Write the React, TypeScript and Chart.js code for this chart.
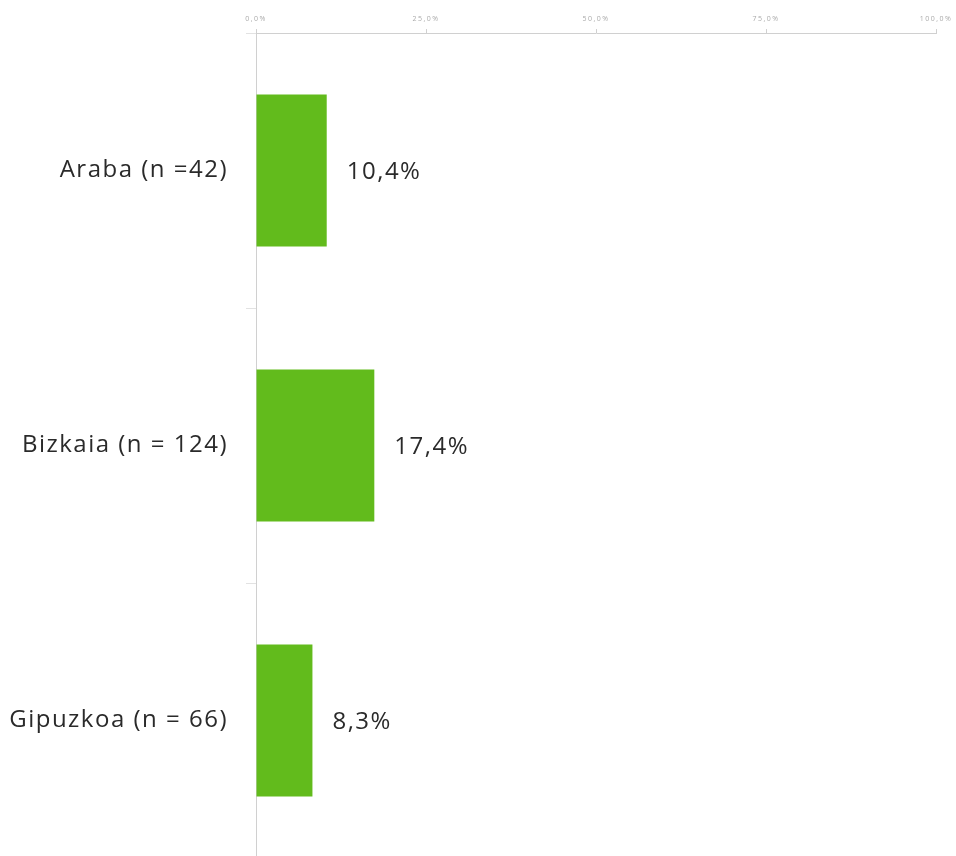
import React, { useEffect, useRef } from "react";
import { Chart, registerables } from "chart.js";

Chart.register(...registerables);

const categories = ["Araba (n =42)", "Bizkaia (n = 124)", "Gipuzkoa (n = 66)"];
const values = [10.4, 17.4, 8.3];
const valueLabels = ["10,4%", "17,4%", "8,3%"];
const xTickLabels: Record<number, string> = { 0: "0,0%", 25: "25,0%", 50: "50,0%", 75: "75,0%", 100: "100,0%" };

const FONT = "'Open Sans', sans-serif";

const spacingPlugin = {
  id: "spacing",
  beforeDraw(chart: any) {
    chart.ctx.letterSpacing = "1.5px";
  },
  afterDraw(chart: any) {
    chart.ctx.letterSpacing = "0px";
  },
};

const valueLabelPlugin = {
  id: "valueLabels",
  afterDatasetsDraw(chart: any) {
    const ctx = chart.ctx;
    const meta = chart.getDatasetMeta(0);
    ctx.save();
    ctx.letterSpacing = "1.5px";
    ctx.font = `24px ${FONT}`;
    ctx.fillStyle = "#2a2a2a";
    ctx.textAlign = "left";
    ctx.textBaseline = "middle";
    meta.data.forEach((el: any, i: number) => {
      ctx.fillText(valueLabels[i], el.x + 20, el.y + 2);
    });
    ctx.restore();
  },
};

export default function App() {
  const ref = useRef<HTMLCanvasElement>(null);
  useEffect(() => {
    if (!ref.current) return;
    const chart = new Chart(ref.current, {
      type: "bar",
      data: {
        labels: categories,
        datasets: [
          {
            data: values,
            backgroundColor: "#62BB1C",
            categoryPercentage: 1,
            barPercentage: 0.553,
          },
        ],
      },
      options: {
        indexAxis: "y",
        animation: false,
        responsive: false,
        maintainAspectRatio: false,
        layout: { padding: { left: 0, right: 20, top: 0, bottom: 0 } },
        plugins: { legend: { display: false }, tooltip: { enabled: false } },
        scales: {
          x: {
            position: "top",
            min: 0,
            max: 100,
            afterFit: (s: any) => {
              s.height = 33;
              s.paddingLeft = 0;
              s.paddingRight = 0;
            },
            afterBuildTicks: (s: any) => {
              s.ticks = [0, 25, 50, 75, 100].map((v) => ({ value: v }));
            },
            ticks: {
              font: { size: 7, family: FONT },
              color: "#aaaaaa",
              padding: 6,
              maxRotation: 0,
              callback: (v: any) => xTickLabels[v as number] ?? "",
            },
            grid: { drawOnChartArea: false, tickLength: 4, color: "#d0d0d0" },
            border: { color: "#d0d0d0" },
          },
          y: {
            afterFit: (s: any) => {
              s.width = 256;
              s.paddingTop = 0;
              s.paddingBottom = 0;
            },
            ticks: {
              font: { size: 24, family: FONT },
              color: "#2a2a2a",
              padding: 18,
            },
            grid: { drawOnChartArea: false, tickLength: 10, color: "#e2e2e2", offset: true },
            border: { color: "#d0d0d0" },
          },
        },
      },
      plugins: [spacingPlugin, valueLabelPlugin],
    });
    return () => chart.destroy();
  }, []);
  return (
    <div style={{ position: "fixed", left: 0, top: 0, width: 956, height: 856, overflow: "hidden", background: "#fff" }}>
      <canvas ref={ref} width={956} height={858} style={{ width: 956, height: 858, display: "block" }} />
    </div>
  );
}
